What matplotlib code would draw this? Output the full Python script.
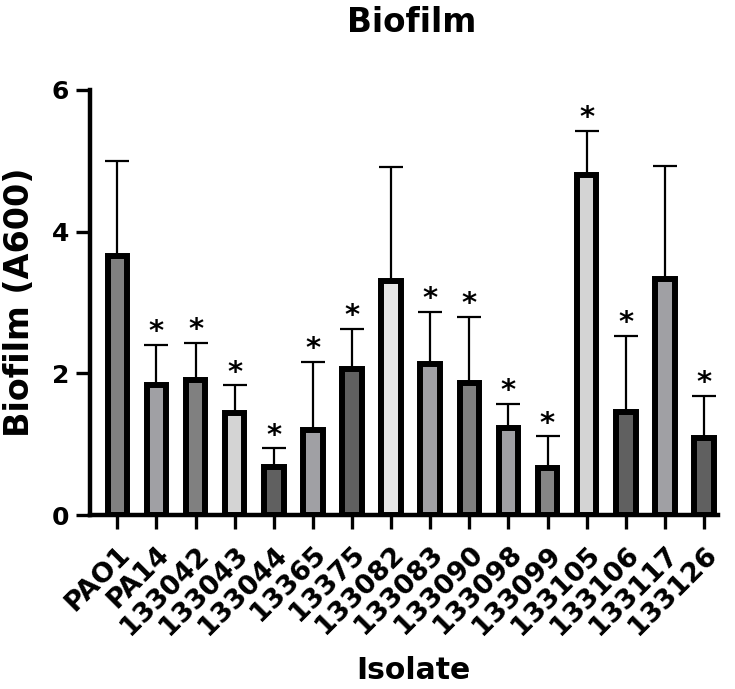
import matplotlib

matplotlib.use("Agg")
import matplotlib.pyplot as plt
import numpy as np

isolates = [
    "PAO1", "PA14", "133042", "133043", "133044", "13365", "13375", "133082",
    "133083", "133090", "133098", "133099", "133105", "133106", "133117", "133126",
]
biofilm_mean = [3.66, 1.84, 1.90, 1.44, 0.68, 1.20, 2.06, 3.31,
                2.13, 1.86, 1.23, 0.66, 4.80, 1.45, 3.33, 1.09]
biofilm_sd = [1.34, 0.56, 0.53, 0.39, 0.26, 0.96, 0.57, 1.60,
              0.74, 0.94, 0.34, 0.45, 0.62, 1.08, 1.59, 0.59]
significant = [False, True, True, True, True, True, True, False,
               True, True, True, True, True, True, False, True]
y_ticks = [0, 2, 4, 6]

bar_fills = ["#808080", "#a0a0a4", "#808080", "#d4d4d4", "#606060", "#a0a0a4",
             "#606060", "#e6e6e6", "#a0a0a4", "#808080", "#a0a0a4", "#858585",
             "#d4d4d4", "#606060", "#a0a0a4", "#606060"]

plt.rcParams["font.family"] = "DejaVu Sans"
plt.rcParams["font.weight"] = "bold"

fig = plt.figure(figsize=(7.35, 6.89), dpi=100)
ax = fig.add_axes([0.1224, 0.2525, 0.8545, 0.6169])

x = np.arange(len(isolates))
means = np.array(biofilm_mean)
sd = np.array(biofilm_sd)

ax.bar(x, means, width=0.5, color=bar_fills, edgecolor="black",
       linewidth=4.3, zorder=3)
ax.errorbar(x, means, yerr=[np.zeros_like(sd), sd], fmt="none",
            ecolor="black", elinewidth=1.6, capsize=8.5, capthick=1.6,
            zorder=2)

# asterisks over the isolates that differ from PAO1
for xi, top, flag in zip(x, means + sd, significant):
    if flag:
        ax.annotate("*", (xi, top), xytext=(0, -1), textcoords="offset points",
                    ha="center", va="bottom", fontsize=21, fontweight="bold")

ax.set_xlim(-0.70, 15.36)
ax.set_ylim(0, 6)
ax.set_yticks(y_ticks)
ax.set_yticklabels([str(t) for t in y_ticks], fontsize=18, fontweight="bold")
ax.set_xticks(x)
ax.set_xticklabels(isolates, rotation=45, ha="right", va="top",
                   rotation_mode="anchor", fontsize=19.5, fontweight="bold")

for side in ("top", "right"):
    ax.spines[side].set_visible(False)
for side in ("left", "bottom"):
    ax.spines[side].set_linewidth(3.2)
ax.tick_params(axis="both", length=10, width=2.4)
ax.tick_params(axis="x", pad=9)
ax.tick_params(axis="y", pad=5)

fig.text(0.5605, 0.9536, "Biofilm", ha="center", va="baseline",
         fontsize=23.5, fontweight="bold")
fig.text(0.026, 0.562, "Biofilm (A600)", ha="center", va="center",
         rotation=90, fontsize=24, fontweight="bold")
fig.text(0.562, 0.006, "Isolate", ha="center", va="bottom",
         fontsize=21.5, fontweight="bold")

fig.savefig("out.png", dpi=100)
